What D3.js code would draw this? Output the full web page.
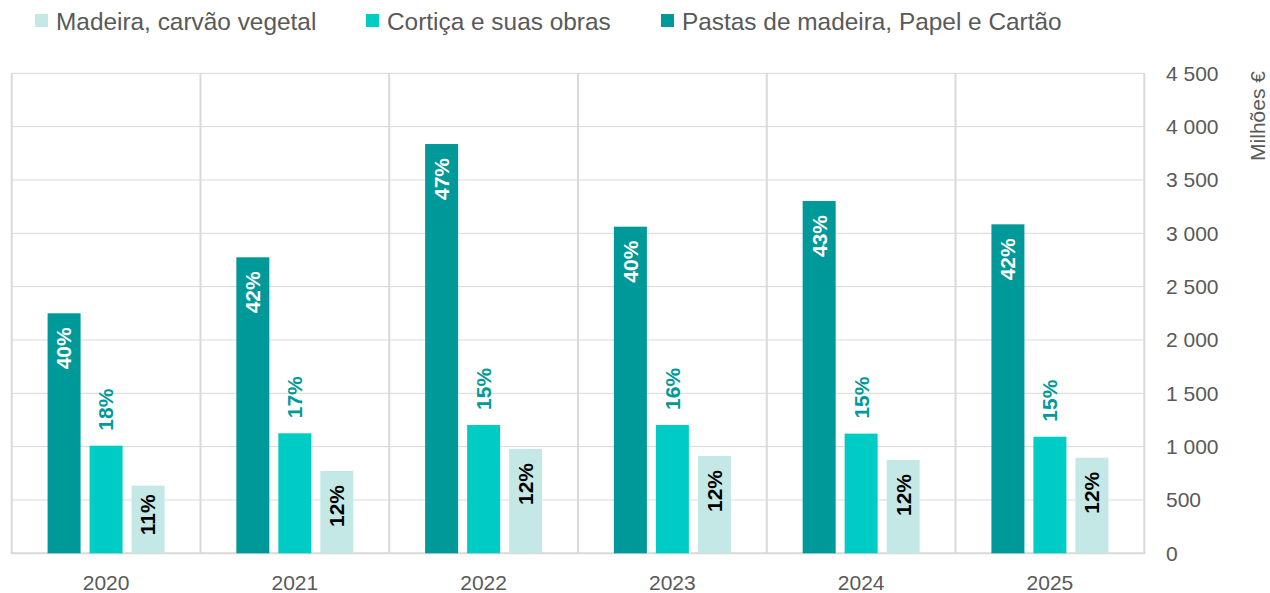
<!DOCTYPE html>
<html>
<head>
<meta charset="utf-8">
<script src="https://cdn.jsdelivr.net/npm/d3@7"></script>
<style>
  body { margin: 0; background: #fff; }
  text { font-family: "Liberation Sans", Arial, sans-serif; }
</style>
</head>
<body>
<script>
// data (milhões €)
let years = ['2020', '2021', '2022', '2023', '2024', '2025'];
let seriesNames = ['Pastas de madeira, Papel e Cartão', 'Cortiça e suas obras', 'Madeira, carvão vegetal'];
let pastas  = [2250, 2775, 3837, 3062, 3303, 3084];
let cortica = [1009, 1125, 1203, 1203, 1122, 1093];
let madeira = [634, 772, 978, 912, 875, 896];
let pctPastas  = [40, 42, 47, 40, 43, 42];
let pctCortica = [18, 17, 15, 16, 15, 15];
let pctMadeira = [11, 12, 12, 12, 12, 12];
let yTicks = [0, 500, 1000, 1500, 2000, 2500, 3000, 3500, 4000, 4500];
let legendOrder = ['Madeira, carvão vegetal', 'Cortiça e suas obras', 'Pastas de madeira, Papel e Cartão'];

let colors = {
  'Pastas de madeira, Papel e Cartão': '#009999',
  'Cortiça e suas obras': '#00ccc6',
  'Madeira, carvão vegetal': '#c4e8e5'
};

let width = 1270, height = 593;
let plotLeft = 11.7, plotRight = 1144.3, plotTop = 73.3, plotBottom = 553.3;

let svg = d3.select('body').append('svg')
  .attr('width', width)
  .attr('height', height);

let x = d3.scaleBand().domain(years).range([plotLeft, plotRight]).padding(0);
let xs = d3.scaleBand().domain(seriesNames).range([-58.5, 58.5]).paddingInner(9 / 42).paddingOuter(0);
let y = d3.scaleLinear().domain([0, 4500]).range([plotBottom, plotTop]);

// grid
let grid = svg.append('g');
grid.selectAll('line.h')
  .data(yTicks.slice(1))
  .enter().append('line')
  .attr('x1', plotLeft).attr('x2', plotRight)
  .attr('y1', d => y(d)).attr('y2', d => y(d))
  .attr('stroke', '#d9d9d9').attr('stroke-width', 1);

let bounds = years.map(d => x(d)).concat([plotRight]);
grid.selectAll('line.v')
  .data(bounds)
  .enter().append('line')
  .attr('x1', d => d).attr('x2', d => d)
  .attr('y1', plotTop).attr('y2', plotBottom)
  .attr('stroke', '#d9d9d9').attr('stroke-width', 2);

grid.append('line')
  .attr('x1', plotLeft - 1).attr('x2', plotRight + 1)
  .attr('y1', y(0)).attr('y2', y(0))
  .attr('stroke', '#d9d9d9').attr('stroke-width', 2);

// bars
let rows = years.map((yr, i) => ({
  year: yr,
  vals: [
    {name: seriesNames[0], value: pastas[i], pct: pctPastas[i]},
    {name: seriesNames[1], value: cortica[i], pct: pctCortica[i]},
    {name: seriesNames[2], value: madeira[i], pct: pctMadeira[i]}
  ]
}));

let groups = svg.append('g')
  .selectAll('g')
  .data(rows)
  .enter().append('g')
  .attr('transform', d => 'translate(' + (x(d.year) + x.bandwidth() / 2) + ',0)');

groups.selectAll('rect')
  .data(d => d.vals)
  .enter().append('rect')
  .attr('x', d => xs(d.name))
  .attr('y', d => y(d.value))
  .attr('width', xs.bandwidth())
  .attr('height', d => y(0) - y(d.value))
  .attr('fill', d => colors[d.name]);

// labels
let labelSize = 21;
groups.selectAll('text')
  .data(d => d.vals)
  .enter().append('text')
  .text(d => d.pct + '%')
  .attr('font-size', labelSize)
  .attr('font-weight', 'bold')
  .attr('dy', '0.35em')
  .attr('fill', (d, i) => i == 0 ? '#ffffff' : (i == 1 ? '#009999' : '#000000'))
  .attr('text-anchor', (d, i) => i == 1 ? 'start' : 'end')
  .attr('transform', function(d, i) {
    let cx = xs(d.name) + xs.bandwidth() / 2;
    let yy;
    if (i == 0) yy = y(d.value) + 14;
    else if (i == 1) yy = y(d.value) - 15;
    else yy = Math.min(y(d.value) + 14, y(0) - 17 - 42);
    return 'translate(' + cx + ',' + yy + ') rotate(-90)';
  });

// x labels
svg.append('g')
  .selectAll('text')
  .data(years)
  .enter().append('text')
  .attr('x', d => x(d) + x.bandwidth() / 2)
  .attr('y', 583)
  .attr('dy', '0.35em')
  .attr('text-anchor', 'middle')
  .attr('font-size', 21)
  .attr('fill', '#595959')
  .text(d => d);

// y axis on right
let loc = d3.formatLocale({decimal: ',', thousands: ' ', grouping: [3], currency: ['', ' €']});
let yAxis = d3.axisRight(y).tickValues(yTicks).tickSize(0).tickPadding(0).tickFormat(loc.format(',d'));
let ya = svg.append('g')
  .attr('transform', 'translate(1166,0)')
  .call(yAxis);
ya.select('.domain').remove();
ya.selectAll('text')
  .attr('font-size', 21)
  .attr('fill', '#595959')
  .style('font-family', '"Liberation Sans", Arial, sans-serif');

svg.append('text')
  .attr('transform', 'translate(1258,116) rotate(-90)')
  .attr('text-anchor', 'middle')
  .attr('dy', '0.35em')
  .attr('font-size', 21)
  .attr('fill', '#595959')
  .text('Milhões €');

// legend
let legendX = [35, 366, 661];
let legend = svg.append('g')
  .selectAll('g')
  .data(legendOrder)
  .enter().append('g')
  .attr('transform', (d, i) => 'translate(' + legendX[i] + ',0)');

legend.append('rect')
  .attr('x', 0).attr('y', 14)
  .attr('width', 13).attr('height', 13)
  .attr('fill', d => colors[d]);

legend.append('text')
  .attr('x', 21).attr('y', 21)
  .attr('dy', '0.35em')
  .attr('font-size', 24.4)
  .attr('fill', '#595959')
  .text(d => d);
</script>
</body>
</html>
